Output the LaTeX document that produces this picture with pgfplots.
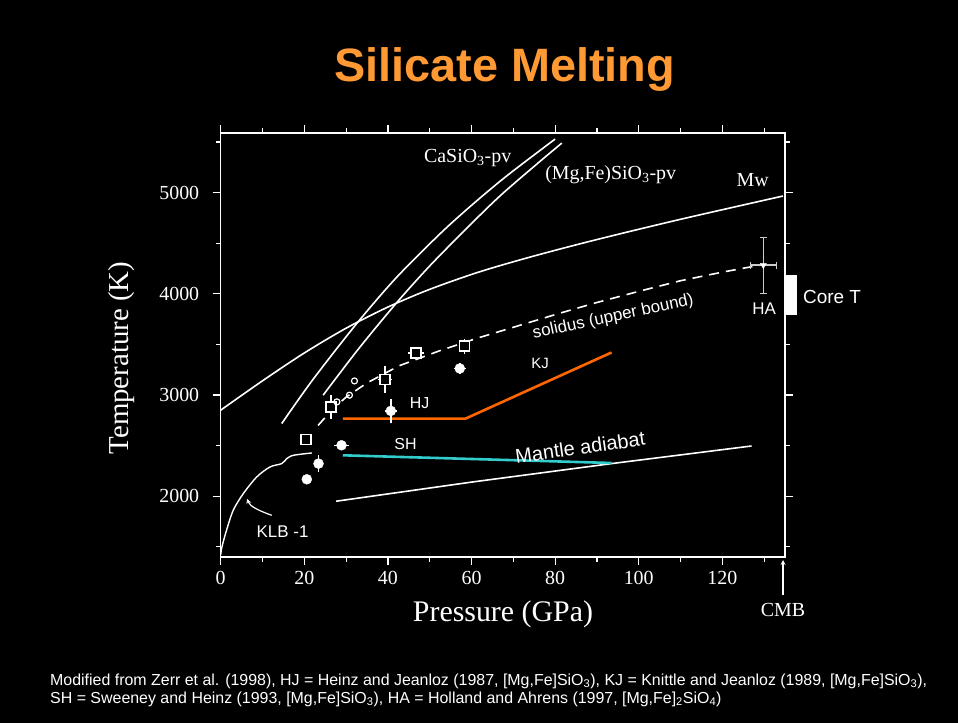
\documentclass[border=0pt]{standalone}
\usepackage{pgfplots}
\pgfplotsset{compat=1.18}
\usepackage{fontspec}
\setmainfont{Liberation Serif}
\newfontfamily\arial{Liberation Sans}
\definecolor{titleorange}{RGB}{255,153,51}
\definecolor{lineorange}{RGB}{255,102,0}
\definecolor{linecyan}{RGB}{51,204,204}
\newcommand{\fs}[1]{\fontsize{#1}{#1}\selectfont}
\begin{document}
\begin{tikzpicture}
\useasboundingbox (0,0) rectangle (958bp,723bp);
\fill[black] (0,0) rectangle (958bp,723bp);
\node[anchor=base, text=titleorange, font=\arial\bfseries\fs{47}, inner sep=0] at (504.5bp,641bp) {Silicate Melting};
\begin{axis}[
  at={(220.7bp,166bp)}, anchor=south west,
  width=564.3bp, height=424bp, scale only axis,
  xmin=0, xmax=135, ymin=1400, ymax=5590,
  clip=false,
  axis line style={white, line width=1.5bp},
  tick style={white, line width=1.2bp},
  major tick length=8bp, minor tick length=5bp,
  tick align=outside,
  xtick={0,20,...,120}, minor xtick={10,30,...,130},
  ytick={2000,3000,4000,5000}, minor ytick={1500,2500,...,5500},
  scaled x ticks=false, scaled y ticks=false,
  ticklabel style={font=\fs{20}, text=white},
  yticklabel style={xshift=-10bp},
  xticklabel style={yshift=-3bp},
  /pgf/number format/assume math mode=true,
  /pgf/number format/1000 sep={},
]
% Mw
\addplot[white, line width=1.6bp, smooth] coordinates {(0,2851)(10,3141)(20,3416)(30,3661)(40,3870)(50,4045)(62,4219)(75,4375)(90,4537)(110,4737)(134.5,4967)};
% CaSiO3-pv
\addplot[white, line width=1.6bp, smooth] coordinates {(14.6,2719)(22,3150)(32.5,3705)(42,4160)(52.5,4595)(60,4875)(68.4,5165)(80,5530)};
% (Mg,Fe)SiO3-pv
\addplot[white, line width=1.6bp, smooth] coordinates {(24.5,2999)(33,3458)(42.1,3913)(50,4276)(58.9,4650)(67,4975)(76.4,5310)(81.6,5490)};
% solidus (upper bound)
\addplot[white, line width=1.6bp, dash pattern=on 10bp off 7bp] coordinates {(23.3,2700)(26.5,2850)(30,2980)(35,3120)(42.7,3290)(52.5,3440)(61.2,3560)(70.8,3680)(81.2,3810)(90,3915)(100,4025)(110,4130)(120,4215)(129.8,4290)};
% KLB-1
\addplot[white, line width=1.4bp, smooth] coordinates {(0,1420)(0.3,1500)(1.4,1665)(3,1862)(5.4,2026)(8.6,2190)(11.8,2290)(14.6,2323)(15.8,2372)(17.4,2405)(21.8,2428)};
% Mantle adiabat
\addplot[white, line width=1.6bp] coordinates {(27.6,1951)(60,2140)(93.5,2323)(127,2497)};
% KJ / HJ
\addplot[lineorange, line width=2.6bp] coordinates {(29.2,2768)(58.6,2768)(93.5,3421)};
% SH
\addplot[linecyan, line width=2.6bp] coordinates {(29.2,2405)(93.5,2329)};
% open squares
\addplot[only marks, mark=square*, mark size=5bp, mark options={draw=white, fill=black, line width=1.3bp},
  error bars/.cd, x dir=both, x explicit, y dir=both, y explicit,
  error bar style={white, line width=1.3bp}, error mark=none]
  coordinates {(20.4,2561) +- (0.6,50) (26.4,2883) +- (0.8,120) (39.3,3154) +- (1.7,130) (46.7,3417) +- (2,40) (58.3,3484) +- (1,75)};
% open circles
\addplot[only marks, mark=o, mark size=3bp, mark options={draw=white, line width=1.2bp}]
  coordinates {(32,3140)(30.8,2999)(27.8,2933)};
% filled points
\addplot[only marks, mark=*, mark size=5bp, mark options={draw=white, fill=white},
  error bars/.cd, x dir=both, x explicit, y dir=both, y explicit,
  error bar style={white, line width=1.5bp}, error mark=none]
  coordinates {(20.6,2168) +- (0,0) (23.4,2323) +- (0.3,80) (28.9,2504) +- (1.8,20) (40.7,2844) +- (1.5,120) (57.2,3263) +- (1.5,50)};
% HA
\addplot[only marks, mark=triangle*, mark size=3.5bp, mark options={draw=white, fill=white, rotate=180},
  error bars/.cd, x dir=both, x explicit, y dir=both, y explicit,
  error bar style={white!80!black, line width=1.2bp}]
  coordinates {(129.8,4285) +- (3.2,275)};
% Core T box
\fill[white] (axis cs:135,3790) rectangle (axis cs:137.8,4186);
% labels
\node[anchor=base west, inner sep=0, text=white, font=\fs{20}] at (axis cs:48.6,5303) {CaSiO\textsubscript{3}-pv};
\node[anchor=base west, inner sep=0, text=white, font=\fs{20}] at (axis cs:77.6,5132) {(Mg,Fe)SiO\textsubscript{3}-pv};
\node[anchor=base west, inner sep=0, text=white, font=\fs{20}] at (axis cs:123.4,5059) {Mw};
\node[inner sep=0, text=white, font=\arial\fs{17}, rotate=12] at (axis cs:93.9,3770) {solidus (upper bound)};
\node[inner sep=0, text=white, font=\arial\fs{15}] at (axis cs:76.4,3315) {KJ};
\node[inner sep=0, text=white, font=\arial\fs{16}] at (axis cs:47.6,2917) {HJ};
\node[inner sep=0, text=white, font=\arial\fs{16}] at (axis cs:44.2,2514) {SH};
\node[inner sep=0, text=white, font=\arial\fs{20}, rotate=8] at (axis cs:86,2485) {Mantle adiabat};
\node[inner sep=0, text=white, font=\arial\fs{17}] at (axis cs:14.8,1649) {KLB -1};
\node[inner sep=0, text=white, font=\arial\fs{17}] at (axis cs:130,3854) {HA};
\node[anchor=west, inner sep=0, text=white, font=\arial\fs{19}] at (axis cs:139.3,3973) {Core T};
\draw[white, line width=1.2bp, -stealth] (axis cs:12.2,1812) .. controls (axis cs:9,1860) and (axis cs:7,1900) .. (axis cs:6.3,1975);
\end{axis}
\node[rotate=90, text=white, font=\fs{29}] at (122bp,365bp) {Temperature (K)};
\node[text=white, font=\fs{30}] at (503bp,109bp) {Pressure (GPa)};
\node[text=white, font=\fs{20}] at (783bp,113bp) {CMB};
\draw[white, line width=1.2bp, -stealth] (783bp,128bp) -- (783bp,163bp);
\node[anchor=base west, inner sep=0, text=white, font=\arial\fs{16}] at (50bp,38bp) {Modified from Zerr et al. (1998), HJ = Heinz and Jeanloz (1987, [Mg,Fe]SiO\textsubscript{3}), KJ = Knittle and Jeanloz (1989, [Mg,Fe]SiO\textsubscript{3}),};
\node[anchor=base west, inner sep=0, text=white, font=\arial\fs{16}] at (50bp,20bp) {SH = Sweeney and Heinz (1993, [Mg,Fe]SiO\textsubscript{3}), HA = Holland and Ahrens (1997, [Mg,Fe]\textsubscript{2}SiO\textsubscript{4})};
\end{tikzpicture}
\end{document}
